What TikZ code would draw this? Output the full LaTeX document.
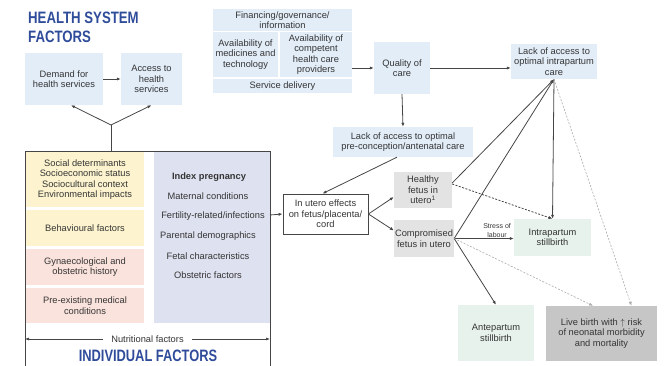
\documentclass[tikz,border=0pt]{standalone}
\usepackage{fontspec}
\setmainfont{Liberation Sans}
\usepackage{graphicx}
\usepackage{tikz}
\usetikzlibrary{arrows.meta,positioning}
\definecolor{TitleBlue}{HTML}{2F4C9A}
\definecolor{Ink}{HTML}{353535}
\definecolor{Edge}{HTML}{454545}
\definecolor{SoftBlue}{HTML}{E2EDF8}
\definecolor{SoftYellow}{HTML}{FDF4CF}
\definecolor{SoftPink}{HTML}{FBE3DD}
\definecolor{SoftLilac}{HTML}{DEE1EF}
\definecolor{SoftGrey}{HTML}{E3E3E3}
\definecolor{SoftGreen}{HTML}{E6F2EB}
\definecolor{MidGrey}{HTML}{C6C6C6}
\definecolor{Faint}{HTML}{ABABAB}
\newcommand{\figfont}{\fontsize{9.3}{10.6}\selectfont}
\newcommand{\titlefont}{\fontsize{16.5}{19}\selectfont\bfseries}

\begin{document}
\begin{tikzpicture}[x=1pt,y=-1pt,
    box/.style={rectangle,fill=SoftBlue,align=center,inner sep=1pt,font=\figfont,text=Ink},
    arrow/.style={-{Latex[length=4pt,width=3.2pt]},line width=0.8pt,draw=Edge},
    dasharrow/.style={arrow,dashed,dash pattern=on 2pt off 1.5pt},
    faintarrow/.style={-{Latex[length=4pt,width=3.2pt]},line width=0.6pt,draw=Faint,dash pattern=on 2pt off 1.5pt},
    title/.style={font=\titlefont,text=TitleBlue,inner sep=0pt,align=left}
]
\useasboundingbox (0,0) rectangle (667,366);

% health system factors
\node[title,anchor=north west] at (28,12) {\scalebox{0.8}[1]{HEALTH SYSTEM}\\\scalebox{0.8}[1]{FACTORS}};
\node[box,minimum width=78,minimum height=52] (demand) at (64,79) {Demand for\\health services};
\node[box,minimum width=61,minimum height=52] (access) at (151.5,79) {Access to\\health\\services};
\draw[arrow] (demand) -- (access);

\node[box,minimum width=139,minimum height=22] (financing) at (282.5,20) {Financing/governance/\\information};
\node[box,minimum width=65,minimum height=45] (medicines) at (245.5,54.5) {Availability of\\medicines and\\technology};
\node[box,minimum width=72,minimum height=45] (providers) at (316,54.5) {Availability of\\competent\\health care\\providers};
\node[box,minimum width=139,minimum height=14] (service) at (282.5,86) {Service delivery};
\node[box,minimum width=56,minimum height=52] (quality) at (402,68) {Quality of\\care};
\node[box,minimum width=86,minimum height=35] (intraacc) at (554,61.5) {Lack of access to\\optimal intrapartum\\care};
\node[box,minimum width=140,minimum height=30] (precon) at (403,142) {Lack of access to optimal\\pre-conception/antenatal care};
\draw[arrow] (providers.east |- quality.west) -- (quality.west);
\draw[arrow] (quality.east) -- (quality.east -| intraacc.west);
\draw[arrow] (quality.south) -- (precon.north);

% individual factors
\coordinate (ftop) at (111,151);
\coordinate (split) at (111,125);
\coordinate (fout) at (270,215);
\draw[line width=0.8pt,draw=Edge] (25,370) |- (270,151) -- (270,370);
\node[box,fill=SoftYellow,minimum width=118,minimum height=55] (social) at (85,179.5) {Social determinants\\Socioeconomic status\\Sociocultural context\\Environmental impacts};
\node[box,fill=SoftYellow,minimum width=118,minimum height=36] (behav) at (85,228) {Behavioural factors};
\node[box,fill=SoftPink,minimum width=118,minimum height=36] (gyn) at (85,267) {Gynaecological and\\obstetric history};
\node[box,fill=SoftPink,minimum width=118,minimum height=35] (preex) at (85,305.5) {Pre-existing medical\\conditions};
\node[box,fill=SoftLilac,minimum width=116,minimum height=171] (index) at (212,237.5) {};
\node[box,fill=none] (indexhead) at (209,177) {\bfseries Index pregnancy};
\node[box,fill=none] (maternal) at (208,196) {Maternal conditions};
\node[box,fill=none] (fertility) at (213,216) {Fertility-related/infections};
\node[box,fill=none] (parental) at (208,236) {Parental demographics};
\node[box,fill=none] (fetal) at (208,256) {Fetal characteristics};
\node[box,fill=none] (obstetric) at (208,275) {Obstetric factors};
\coordinate (nutl) at (25,339);
\coordinate (nutr) at (270,339);
\draw[{Latex[length=4pt,width=3pt]}-{Latex[length=4pt,width=3pt]},line width=0.6pt,draw=Edge] (nutl) -- node[box,fill=white,inner xsep=8pt] (nutrition) {Nutritional factors} (nutr);
\node[title] (indiv) at (148,355.5) {\scalebox{0.78}[1]{INDIVIDUAL FACTORS}};
\draw[line width=0.8pt,draw=Edge] (ftop) -- (split);
\draw[arrow] (split) -- ([xshift=7pt]demand.south);
\draw[arrow] (split) -- (access.south);

% pathway
\node[box,fill=white,draw=Edge,line width=0.8pt,minimum width=85,minimum height=40] (inutero) at (325.5,214) {In utero effects\\on fetus/placenta/\\cord};
\node[box,fill=SoftGrey,minimum width=58,minimum height=36] (healthy) at (423,190) {Healthy\\fetus in\\utero\textsuperscript{1}};
\node[box,fill=SoftGrey,minimum width=58,minimum height=37] (compromised) at (424,238.5) {Compromised\\fetus in utero};
\node[box,fill=SoftGreen,minimum width=77,minimum height=37] (intrapst) at (552.5,237.5) {Intrapartum\\stillbirth};
\node[box,fill=SoftGreen,minimum width=76,minimum height=56] (antepst) at (496,333) {Antepartum\\stillbirth};
\node[box,fill=MidGrey,minimum width=111,minimum height=55] (livebirth) at (601.5,333.5) {Live birth with $\uparrow$ risk\\of neonatal morbidity\\and mortality};
\draw[arrow] (fout) -- (inutero.west);
\draw[arrow] ([xshift=-6pt]precon.south) -- ([xshift=-3pt]inutero.north);
\draw[arrow] (inutero.east) -- ([yshift=-7pt]healthy.west);
\draw[arrow] (inutero.east) -- ([yshift=8pt]compromised.west);
\draw[arrow] ([yshift=7pt]healthy.east) -- (intraacc.south);
\draw[arrow] (compromised.east) -- (intraacc.south);
\draw[arrow] (intraacc.south) -- (intrapst.north);
\draw[dasharrow] ([yshift=6pt]healthy.east) -- (intrapst.north);
\draw[arrow] (compromised.east) -- node[pos=0.72,above,align=center,inner sep=1pt,font=\fontsize{7}{8.5}\selectfont,text=Ink] {Stress of\\labour} (compromised.east -| intrapst.west);
\draw[arrow] (compromised.east) -- (antepst.north);
\draw[faintarrow] (compromised.east) -- ([xshift=-8.5pt]livebirth.north);
\draw[faintarrow] (intraacc.south) -- ([xshift=30pt]livebirth.north);
\end{tikzpicture}
\end{document}
